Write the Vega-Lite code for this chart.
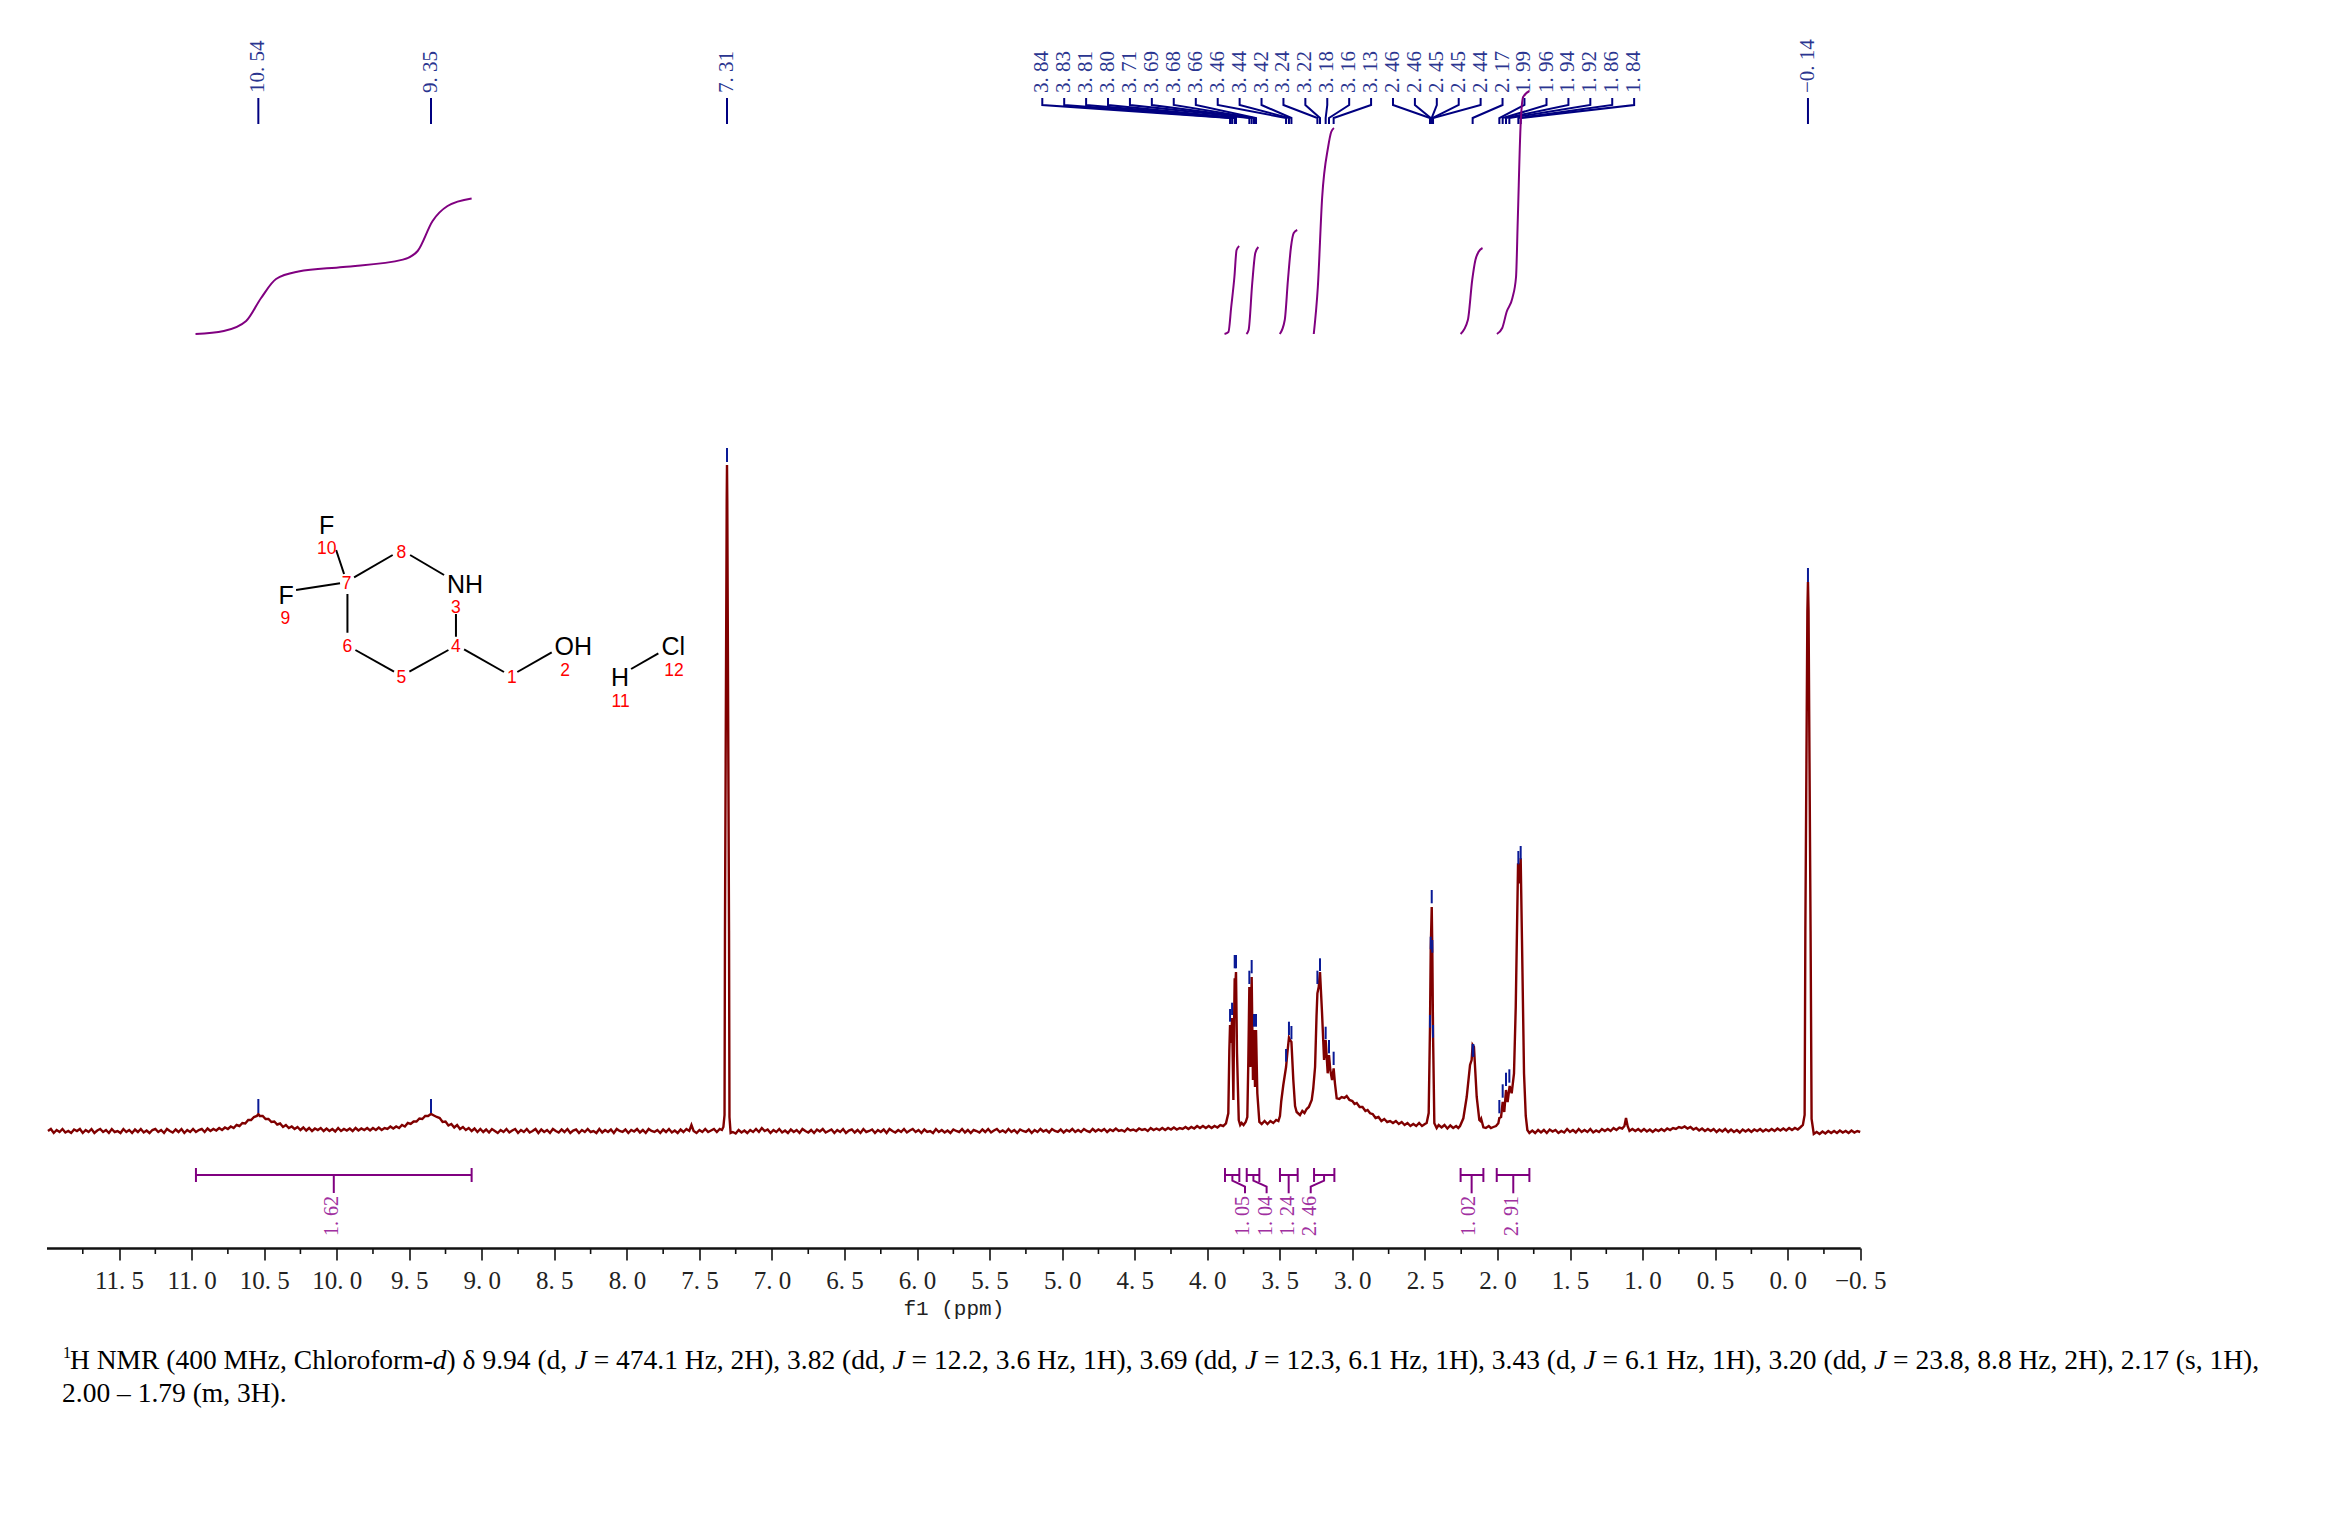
{"$schema":"https://vega.github.io/schema/vega-lite/v6.json","width":1813.7,"height":1248,"autosize":"none","padding":{"left":46.5,"top":0,"right":478.8,"bottom":280},"background":"white","config":{"view":{"stroke":null}},
"encoding":{"x":{"field":"p","type":"quantitative","scale":{"domain":[12,-0.5],"nice":false,"zero":false},"axis":{"values":[11.5,11,10.5,10,9.5,9,8.5,8,7.5,7,6.5,6,5.5,5,4.5,4,3.5,3,2.5,2,1.5,1,0.5,0,-0.5],"grid":false,"labelExpr":"replace(format(datum.value,'.1f'),'.','. ')","labelFont":"Liberation Serif","labelFontSize":25,"labelColor":"#222222","labelPadding":8,"labelOverlap":false,"labelFlush":false,"tickSize":12,"tickWidth":1.6,"tickColor":"#111111","domainColor":"#111111","domainWidth":2.4,"title":"f1 (ppm)","titleFont":"Liberation Mono","titleFontSize":21,"titleFontWeight":"normal","titleColor":"#222222","titlePadding":4}},"y":{"field":"h","type":"quantitative","scale":{"domain":[-117,1131],"nice":false,"zero":false},"axis":null}},
"layer":[
{"data":{"values":[{"p":11.75,"h":-117,"h2":-123},{"p":11.25,"h":-117,"h2":-123},{"p":10.75,"h":-117,"h2":-123},{"p":10.25,"h":-117,"h2":-123},{"p":9.75,"h":-117,"h2":-123},{"p":9.25,"h":-117,"h2":-123},{"p":8.75,"h":-117,"h2":-123},{"p":8.25,"h":-117,"h2":-123},{"p":7.75,"h":-117,"h2":-123},{"p":7.25,"h":-117,"h2":-123},{"p":6.75,"h":-117,"h2":-123},{"p":6.25,"h":-117,"h2":-123},{"p":5.75,"h":-117,"h2":-123},{"p":5.25,"h":-117,"h2":-123},{"p":4.75,"h":-117,"h2":-123},{"p":4.25,"h":-117,"h2":-123},{"p":3.75,"h":-117,"h2":-123},{"p":3.25,"h":-117,"h2":-123},{"p":2.75,"h":-117,"h2":-123},{"p":2.25,"h":-117,"h2":-123},{"p":1.75,"h":-117,"h2":-123},{"p":1.25,"h":-117,"h2":-123},{"p":0.75,"h":-117,"h2":-123},{"p":0.25,"h":-117,"h2":-123},{"p":-0.25,"h":-117,"h2":-123}]},"mark":{"type":"rule","color":"#111111","strokeWidth":1.6},"encoding":{"y2":{"field":"h2"}}},
{"data":{"values":[{"p":11.99,"h":0},{"p":11.97,"h":2},{"p":11.95,"h":-2},{"p":11.93,"h":1},{"p":11.91,"h":-1},{"p":11.89,"h":2},{"p":11.87,"h":-1.5},{"p":11.85,"h":0},{"p":11.83,"h":-2},{"p":11.81,"h":1.5},{"p":11.79,"h":0},{"p":11.77,"h":2},{"p":11.75,"h":-2},{"p":11.73,"h":1},{"p":11.71,"h":-1},{"p":11.69,"h":2},{"p":11.67,"h":-2},{"p":11.65,"h":0.5},{"p":11.63,"h":2},{"p":11.61,"h":-1},{"p":11.59,"h":1},{"p":11.57,"h":-2},{"p":11.55,"h":2},{"p":11.53,"h":-1},{"p":11.51,"h":0},{"p":11.49,"h":-2},{"p":11.47,"h":2},{"p":11.45,"h":-1},{"p":11.43,"h":1},{"p":11.41,"h":-2},{"p":11.39,"h":1.5},{"p":11.37,"h":-1},{"p":11.35,"h":2},{"p":11.33,"h":-1.5},{"p":11.31,"h":0.5},{"p":11.29,"h":-2},{"p":11.27,"h":1},{"p":11.25,"h":2},{"p":11.23,"h":-1},{"p":11.21,"h":1},{"p":11.19,"h":-2},{"p":11.17,"h":2},{"p":11.15,"h":0},{"p":11.13,"h":-1.5},{"p":11.11,"h":1.5},{"p":11.09,"h":-1},{"p":11.07,"h":2},{"p":11.05,"h":-2},{"p":11.03,"h":1},{"p":11.01,"h":-1},{"p":10.99,"h":2},{"p":10.97,"h":-1},{"p":10.95,"h":1},{"p":10.93,"h":2},{"p":10.91,"h":-1},{"p":10.89,"h":2.5},{"p":10.87,"h":0},{"p":10.85,"h":2},{"p":10.83,"h":0.5},{"p":10.81,"h":3},{"p":10.79,"h":1},{"p":10.77,"h":3.5},{"p":10.75,"h":2},{"p":10.73,"h":4.5},{"p":10.71,"h":3},{"p":10.69,"h":6},{"p":10.67,"h":5},{"p":10.65,"h":8},{"p":10.63,"h":7.5},{"p":10.61,"h":11},{"p":10.59,"h":11},{"p":10.57,"h":14},{"p":10.55,"h":15},{"p":10.54,"h":17},{"p":10.53,"h":15},{"p":10.51,"h":15},{"p":10.49,"h":12},{"p":10.47,"h":12},{"p":10.45,"h":9},{"p":10.43,"h":9.5},{"p":10.41,"h":6.5},{"p":10.39,"h":7.5},{"p":10.37,"h":4},{"p":10.35,"h":6},{"p":10.33,"h":3},{"p":10.31,"h":4.5},{"p":10.29,"h":2},{"p":10.27,"h":4},{"p":10.25,"h":1},{"p":10.23,"h":3.5},{"p":10.21,"h":0.5},{"p":10.19,"h":3},{"p":10.17,"h":0},{"p":10.15,"h":2.5},{"p":10.13,"h":1},{"p":10.11,"h":3},{"p":10.09,"h":0},{"p":10.07,"h":2.5},{"p":10.05,"h":0},{"p":10.03,"h":2},{"p":10.01,"h":-0.5},{"p":9.99,"h":3},{"p":9.97,"h":0},{"p":9.95,"h":2},{"p":9.93,"h":0.5},{"p":9.91,"h":2.5},{"p":9.89,"h":0},{"p":9.87,"h":3},{"p":9.85,"h":0.5},{"p":9.83,"h":2.5},{"p":9.81,"h":1},{"p":9.79,"h":3},{"p":9.77,"h":0.5},{"p":9.75,"h":3},{"p":9.73,"h":1},{"p":9.71,"h":3.5},{"p":9.69,"h":1},{"p":9.67,"h":3},{"p":9.65,"h":2},{"p":9.63,"h":4.5},{"p":9.61,"h":2.5},{"p":9.59,"h":4.5},{"p":9.57,"h":3},{"p":9.55,"h":6},{"p":9.53,"h":4.5},{"p":9.51,"h":8},{"p":9.49,"h":7},{"p":9.47,"h":9.5},{"p":9.45,"h":9.5},{"p":9.43,"h":12.5},{"p":9.41,"h":12},{"p":9.39,"h":15},{"p":9.37,"h":15},{"p":9.35,"h":17},{"p":9.33,"h":15.5},{"p":9.31,"h":14},{"p":9.29,"h":13},{"p":9.27,"h":9},{"p":9.25,"h":9.5},{"p":9.23,"h":5.5},{"p":9.21,"h":7},{"p":9.19,"h":3.5},{"p":9.17,"h":6},{"p":9.15,"h":2},{"p":9.13,"h":4},{"p":9.11,"h":1},{"p":9.09,"h":3},{"p":9.07,"h":0},{"p":9.05,"h":2.5},{"p":9.03,"h":-1},{"p":9.01,"h":2},{"p":8.99,"h":-1},{"p":8.97,"h":1.5},{"p":8.95,"h":-1.5},{"p":8.93,"h":2},{"p":8.91,"h":0},{"p":8.89,"h":-2},{"p":8.87,"h":1},{"p":8.85,"h":-1},{"p":8.83,"h":2},{"p":8.81,"h":-1.5},{"p":8.79,"h":0.5},{"p":8.77,"h":2},{"p":8.75,"h":-2},{"p":8.73,"h":1},{"p":8.71,"h":-1},{"p":8.69,"h":2},{"p":8.67,"h":-1.5},{"p":8.65,"h":0},{"p":8.63,"h":2},{"p":8.61,"h":-2},{"p":8.59,"h":1.5},{"p":8.57,"h":-1},{"p":8.55,"h":1},{"p":8.53,"h":-2},{"p":8.51,"h":2},{"p":8.49,"h":0},{"p":8.47,"h":-1.5},{"p":8.45,"h":1.5},{"p":8.43,"h":-1},{"p":8.41,"h":2},{"p":8.39,"h":-2},{"p":8.37,"h":0.5},{"p":8.35,"h":1.5},{"p":8.33,"h":-2},{"p":8.31,"h":1},{"p":8.29,"h":-1},{"p":8.27,"h":2},{"p":8.25,"h":-1},{"p":8.23,"h":0},{"p":8.21,"h":-2},{"p":8.19,"h":2},{"p":8.17,"h":-1.5},{"p":8.15,"h":1},{"p":8.13,"h":-1},{"p":8.11,"h":1.5},{"p":8.09,"h":-2},{"p":8.07,"h":2},{"p":8.05,"h":0},{"p":8.03,"h":-1},{"p":8.01,"h":1.5},{"p":7.99,"h":-2},{"p":7.97,"h":1},{"p":7.95,"h":-0.5},{"p":7.93,"h":2},{"p":7.91,"h":-1.5},{"p":7.89,"h":1},{"p":7.87,"h":-2},{"p":7.85,"h":2},{"p":7.83,"h":0},{"p":7.81,"h":-1},{"p":7.79,"h":1},{"p":7.77,"h":-2},{"p":7.75,"h":1.5},{"p":7.73,"h":-1},{"p":7.71,"h":2},{"p":7.69,"h":-1.5},{"p":7.67,"h":0.5},{"p":7.65,"h":-2},{"p":7.63,"h":1.5},{"p":7.61,"h":-1},{"p":7.59,"h":2},{"p":7.57,"h":0},{"p":7.555,"h":6},{"p":7.54,"h":0},{"p":7.52,"h":-2},{"p":7.5,"h":1},{"p":7.48,"h":-1},{"p":7.46,"h":2},{"p":7.44,"h":-1},{"p":7.42,"h":0.5},{"p":7.4,"h":2},{"p":7.38,"h":-1},{"p":7.36,"h":2},{"p":7.345,"h":1},{"p":7.335,"h":4},{"p":7.327,"h":16},{"p":7.324,"h":200},{"p":7.312,"h":630},{"p":7.31,"h":666},{"p":7.308,"h":630},{"p":7.296,"h":200},{"p":7.293,"h":14},{"p":7.285,"h":-2},{"p":7.27,"h":-1},{"p":7.25,"h":-2.5},{"p":7.23,"h":1},{"p":7.21,"h":-1.5},{"p":7.19,"h":0.5},{"p":7.17,"h":-2},{"p":7.15,"h":1},{"p":7.13,"h":-1},{"p":7.11,"h":2},{"p":7.09,"h":-1},{"p":7.07,"h":3},{"p":7.05,"h":0},{"p":7.03,"h":1.5},{"p":7.01,"h":-2},{"p":6.99,"h":1},{"p":6.97,"h":-1},{"p":6.95,"h":2},{"p":6.93,"h":-1.5},{"p":6.91,"h":0.5},{"p":6.89,"h":-2},{"p":6.87,"h":1.5},{"p":6.85,"h":-1},{"p":6.83,"h":1},{"p":6.81,"h":-2},{"p":6.79,"h":2},{"p":6.77,"h":0},{"p":6.75,"h":-1.5},{"p":6.73,"h":1},{"p":6.71,"h":-2},{"p":6.69,"h":1.5},{"p":6.67,"h":-0.5},{"p":6.65,"h":2},{"p":6.63,"h":-1.5},{"p":6.61,"h":0},{"p":6.59,"h":1.5},{"p":6.57,"h":-2},{"p":6.55,"h":1},{"p":6.53,"h":-1},{"p":6.51,"h":2},{"p":6.49,"h":-2},{"p":6.47,"h":0.5},{"p":6.45,"h":1.5},{"p":6.43,"h":-1.5},{"p":6.41,"h":1},{"p":6.39,"h":-2},{"p":6.37,"h":2},{"p":6.35,"h":-1},{"p":6.33,"h":0},{"p":6.31,"h":1.5},{"p":6.29,"h":-2},{"p":6.27,"h":1},{"p":6.25,"h":-1},{"p":6.23,"h":1.5},{"p":6.21,"h":-2},{"p":6.19,"h":2},{"p":6.17,"h":0},{"p":6.15,"h":-1.5},{"p":6.13,"h":1},{"p":6.11,"h":-1},{"p":6.09,"h":2},{"p":6.07,"h":-1.5},{"p":6.05,"h":0.5},{"p":6.03,"h":2},{"p":6.01,"h":-1},{"p":5.99,"h":1},{"p":5.97,"h":-2},{"p":5.95,"h":1.5},{"p":5.93,"h":-1},{"p":5.91,"h":0},{"p":5.89,"h":-2},{"p":5.87,"h":2},{"p":5.85,"h":-1},{"p":5.83,"h":1},{"p":5.81,"h":-1.5},{"p":5.79,"h":0.5},{"p":5.77,"h":-2},{"p":5.75,"h":1.5},{"p":5.73,"h":0},{"p":5.71,"h":-1},{"p":5.69,"h":2},{"p":5.67,"h":-1.5},{"p":5.65,"h":1},{"p":5.63,"h":-2},{"p":5.61,"h":1},{"p":5.59,"h":0},{"p":5.57,"h":-1.5},{"p":5.55,"h":1.5},{"p":5.53,"h":-1},{"p":5.51,"h":2},{"p":5.49,"h":-1.5},{"p":5.47,"h":0.5},{"p":5.45,"h":2},{"p":5.43,"h":-1},{"p":5.41,"h":0.5},{"p":5.39,"h":-1.5},{"p":5.37,"h":2},{"p":5.35,"h":-1},{"p":5.33,"h":1},{"p":5.31,"h":-2},{"p":5.29,"h":1.5},{"p":5.27,"h":0},{"p":5.25,"h":-1},{"p":5.23,"h":1.5},{"p":5.21,"h":-2},{"p":5.19,"h":1},{"p":5.17,"h":-1},{"p":5.15,"h":2},{"p":5.13,"h":-0.5},{"p":5.11,"h":1},{"p":5.09,"h":-1.5},{"p":5.07,"h":2},{"p":5.05,"h":0},{"p":5.03,"h":-1},{"p":5.01,"h":1.5},{"p":4.99,"h":-1.5},{"p":4.97,"h":1},{"p":4.95,"h":-0.5},{"p":4.93,"h":2},{"p":4.91,"h":-1},{"p":4.89,"h":1},{"p":4.87,"h":-1},{"p":4.85,"h":2},{"p":4.83,"h":0},{"p":4.81,"h":-1},{"p":4.79,"h":2},{"p":4.77,"h":-0.5},{"p":4.75,"h":1.5},{"p":4.73,"h":0},{"p":4.71,"h":2},{"p":4.69,"h":-1},{"p":4.67,"h":1.5},{"p":4.65,"h":0},{"p":4.63,"h":2.5},{"p":4.61,"h":0},{"p":4.59,"h":1},{"p":4.57,"h":-0.5},{"p":4.55,"h":2.5},{"p":4.53,"h":0.5},{"p":4.51,"h":1.5},{"p":4.49,"h":0},{"p":4.47,"h":2.5},{"p":4.45,"h":1},{"p":4.43,"h":2},{"p":4.41,"h":0},{"p":4.39,"h":3},{"p":4.37,"h":1},{"p":4.35,"h":2.5},{"p":4.33,"h":1},{"p":4.31,"h":3},{"p":4.29,"h":1},{"p":4.27,"h":3},{"p":4.25,"h":1.5},{"p":4.23,"h":3.5},{"p":4.21,"h":1.5},{"p":4.19,"h":3},{"p":4.17,"h":2},{"p":4.15,"h":4},{"p":4.13,"h":2},{"p":4.11,"h":4},{"p":4.09,"h":2.5},{"p":4.07,"h":5},{"p":4.05,"h":3},{"p":4.03,"h":5},{"p":4.01,"h":3},{"p":3.99,"h":5},{"p":3.97,"h":3},{"p":3.95,"h":5},{"p":3.93,"h":3.5},{"p":3.91,"h":6},{"p":3.89,"h":5},{"p":3.871,"h":7.7},{"p":3.855,"h":17.7},{"p":3.848,"h":80},{"p":3.843,"h":106},{"p":3.836,"h":88},{"p":3.829,"h":113},{"p":3.82,"h":31},{"p":3.815,"h":110},{"p":3.811,"h":152.7},{"p":3.806,"h":147.7},{"p":3.802,"h":159},{"p":3.795,"h":77.7},{"p":3.783,"h":11},{"p":3.773,"h":6},{"p":3.763,"h":8},{"p":3.75,"h":6},{"p":3.735,"h":9},{"p":3.724,"h":14},{"p":3.717,"h":70},{"p":3.71,"h":144},{"p":3.703,"h":64},{"p":3.694,"h":154},{"p":3.685,"h":51},{"p":3.678,"h":101},{"p":3.671,"h":44},{"p":3.664,"h":101},{"p":3.655,"h":37.7},{"p":3.641,"h":9},{"p":3.625,"h":7},{"p":3.605,"h":10},{"p":3.585,"h":7},{"p":3.565,"h":10},{"p":3.545,"h":8},{"p":3.525,"h":11},{"p":3.51,"h":10},{"p":3.499,"h":15},{"p":3.49,"h":30},{"p":3.476,"h":46},{"p":3.457,"h":64},{"p":3.448,"h":78},{"p":3.437,"h":93.3},{"p":3.43,"h":91},{"p":3.42,"h":89},{"p":3.407,"h":51},{"p":3.395,"h":25},{"p":3.384,"h":19},{"p":3.361,"h":16},{"p":3.345,"h":20},{"p":3.33,"h":18},{"p":3.315,"h":22},{"p":3.3,"h":24},{"p":3.28,"h":31},{"p":3.27,"h":42},{"p":3.257,"h":64},{"p":3.247,"h":115},{"p":3.241,"h":137.7},{"p":3.232,"h":144},{"p":3.223,"h":159},{"p":3.209,"h":118},{"p":3.195,"h":71},{"p":3.184,"h":91},{"p":3.17,"h":57.7},{"p":3.161,"h":76},{"p":3.152,"h":61},{"p":3.14,"h":51},{"p":3.129,"h":62.7},{"p":3.12,"h":47.7},{"p":3.108,"h":32.7},{"p":3.09,"h":32},{"p":3.074,"h":34},{"p":3.055,"h":33},{"p":3.039,"h":35},{"p":3.02,"h":31},{"p":3.0,"h":30},{"p":2.985,"h":27},{"p":2.97,"h":28},{"p":2.95,"h":24},{"p":2.93,"h":24},{"p":2.91,"h":20},{"p":2.895,"h":21},{"p":2.878,"h":17.7},{"p":2.86,"h":17},{"p":2.84,"h":13},{"p":2.82,"h":14},{"p":2.8,"h":10},{"p":2.78,"h":12},{"p":2.76,"h":9},{"p":2.74,"h":10},{"p":2.72,"h":8},{"p":2.7,"h":10},{"p":2.68,"h":7},{"p":2.66,"h":9},{"p":2.64,"h":6},{"p":2.62,"h":8},{"p":2.6,"h":5},{"p":2.58,"h":7},{"p":2.56,"h":5},{"p":2.54,"h":8},{"p":2.52,"h":5},{"p":2.5,"h":7},{"p":2.488,"h":8},{"p":2.474,"h":18},{"p":2.465,"h":104},{"p":2.46,"h":181},{"p":2.453,"h":224},{"p":2.449,"h":181},{"p":2.444,"h":97.7},{"p":2.435,"h":7.7},{"p":2.419,"h":3},{"p":2.405,"h":6},{"p":2.385,"h":3.5},{"p":2.365,"h":6},{"p":2.345,"h":2.5},{"p":2.325,"h":5.5},{"p":2.305,"h":3},{"p":2.285,"h":5},{"p":2.27,"h":3},{"p":2.258,"h":5},{"p":2.235,"h":12.7},{"p":2.212,"h":34},{"p":2.189,"h":66},{"p":2.178,"h":71},{"p":2.171,"h":86},{"p":2.162,"h":84},{"p":2.143,"h":34},{"p":2.125,"h":11},{"p":2.118,"h":10},{"p":2.112,"h":12},{"p":2.097,"h":3.7},{"p":2.08,"h":3},{"p":2.06,"h":5},{"p":2.045,"h":3},{"p":2.028,"h":4},{"p":2.01,"h":5},{"p":1.994,"h":7.7},{"p":1.987,"h":13},{"p":1.975,"h":14},{"p":1.964,"h":29},{"p":1.953,"h":19},{"p":1.941,"h":41},{"p":1.93,"h":29},{"p":1.916,"h":45},{"p":1.902,"h":37.7},{"p":1.886,"h":57.7},{"p":1.874,"h":124},{"p":1.858,"h":267.7},{"p":1.849,"h":247.7},{"p":1.84,"h":272.7},{"p":1.831,"h":191},{"p":1.817,"h":57.7},{"p":1.805,"h":15},{"p":1.794,"h":1},{"p":1.78,"h":-2},{"p":1.76,"h":0.5},{"p":1.74,"h":-2},{"p":1.72,"h":1},{"p":1.7,"h":-1.5},{"p":1.68,"h":1},{"p":1.66,"h":-2},{"p":1.64,"h":1.5},{"p":1.62,"h":-0.5},{"p":1.6,"h":1},{"p":1.58,"h":-2},{"p":1.56,"h":0},{"p":1.54,"h":-1.5},{"p":1.52,"h":2},{"p":1.5,"h":-1},{"p":1.48,"h":1},{"p":1.46,"h":-1.5},{"p":1.44,"h":2},{"p":1.42,"h":-1},{"p":1.4,"h":1},{"p":1.38,"h":-1},{"p":1.36,"h":2},{"p":1.34,"h":-1.5},{"p":1.32,"h":0.5},{"p":1.3,"h":-1},{"p":1.28,"h":2},{"p":1.26,"h":0},{"p":1.24,"h":2},{"p":1.22,"h":0},{"p":1.2,"h":3},{"p":1.18,"h":1},{"p":1.16,"h":3.5},{"p":1.14,"h":2.5},{"p":1.125,"h":5},{"p":1.114,"h":13},{"p":1.103,"h":5},{"p":1.09,"h":0},{"p":1.07,"h":2},{"p":1.05,"h":0},{"p":1.03,"h":2},{"p":1.01,"h":-0.5},{"p":0.99,"h":2},{"p":0.97,"h":-0.5},{"p":0.95,"h":1.5},{"p":0.93,"h":-1},{"p":0.91,"h":1.5},{"p":0.89,"h":0},{"p":0.87,"h":2},{"p":0.85,"h":0},{"p":0.83,"h":2.5},{"p":0.81,"h":1},{"p":0.79,"h":3},{"p":0.77,"h":2},{"p":0.75,"h":4},{"p":0.73,"h":3},{"p":0.71,"h":4.5},{"p":0.69,"h":2.5},{"p":0.67,"h":4},{"p":0.65,"h":1.5},{"p":0.63,"h":3},{"p":0.61,"h":0.5},{"p":0.59,"h":2.5},{"p":0.57,"h":0},{"p":0.55,"h":2},{"p":0.53,"h":0},{"p":0.51,"h":2},{"p":0.49,"h":-1},{"p":0.47,"h":1.5},{"p":0.45,"h":-0.5},{"p":0.43,"h":2},{"p":0.41,"h":-1},{"p":0.39,"h":1.5},{"p":0.37,"h":-1},{"p":0.35,"h":1},{"p":0.33,"h":-1.5},{"p":0.31,"h":1.5},{"p":0.29,"h":-0.5},{"p":0.27,"h":1.5},{"p":0.25,"h":-1},{"p":0.23,"h":1.5},{"p":0.21,"h":0},{"p":0.19,"h":2},{"p":0.17,"h":-0.5},{"p":0.15,"h":1.5},{"p":0.13,"h":0},{"p":0.11,"h":2},{"p":0.09,"h":0},{"p":0.07,"h":2.5},{"p":0.05,"h":0.5},{"p":0.03,"h":2.5},{"p":0.01,"h":0.5},{"p":-0.01,"h":3},{"p":-0.03,"h":1},{"p":-0.05,"h":3},{"p":-0.07,"h":1.5},{"p":-0.09,"h":4},{"p":-0.105,"h":6},{"p":-0.117,"h":16},{"p":-0.122,"h":200},{"p":-0.136,"h":520},{"p":-0.14,"h":549},{"p":-0.144,"h":520},{"p":-0.158,"h":200},{"p":-0.165,"h":12},{"p":-0.18,"h":-3},{"p":-0.2,"h":-1},{"p":-0.22,"h":-3},{"p":-0.24,"h":-0.5},{"p":-0.26,"h":-2.5},{"p":-0.28,"h":0},{"p":-0.3,"h":-2},{"p":-0.32,"h":0},{"p":-0.34,"h":-2},{"p":-0.36,"h":0.5},{"p":-0.38,"h":-1.5},{"p":-0.4,"h":0},{"p":-0.42,"h":-2},{"p":-0.44,"h":0.5},{"p":-0.46,"h":-1.5},{"p":-0.48,"h":0},{"p":-0.5,"h":-1}]},"mark":{"type":"line","color":"#800000","strokeWidth":2.4}},
{"data":{"values":[{"p":10.54,"h":18,"h2":32},{"p":9.35,"h":18,"h2":32},{"p":7.31,"h":669,"h2":683},{"p":-0.14,"h":549,"h2":563},{"p":3.843,"h":109.3,"h2":122},{"p":3.829,"h":116,"h2":128.3},{"p":3.811,"h":162.7,"h2":176},{"p":3.802,"h":162.7,"h2":176},{"p":3.71,"h":147,"h2":160.3},{"p":3.694,"h":157.7,"h2":171},{"p":3.678,"h":104.3,"h2":117},{"p":3.664,"h":104.3,"h2":117},{"p":3.457,"h":69.3,"h2":82},{"p":3.437,"h":96,"h2":109.3},{"p":3.42,"h":91.7,"h2":105},{"p":3.241,"h":147,"h2":160.3},{"p":3.223,"h":160,"h2":172.7},{"p":3.184,"h":91.7,"h2":104.3},{"p":3.161,"h":77.7,"h2":91},{"p":3.129,"h":66,"h2":79.3},{"p":2.465,"h":103.3,"h2":116},{"p":2.46,"h":181.7,"h2":194.3},{"p":2.453,"h":227.7,"h2":241},{"p":2.449,"h":178.3,"h2":191},{"p":2.444,"h":93.3,"h2":106},{"p":2.171,"h":74.3,"h2":87},{"p":2.166,"h":74.3,"h2":87},{"p":1.987,"h":17.7,"h2":31},{"p":1.964,"h":33.3,"h2":46.7},{"p":1.941,"h":45,"h2":58.3},{"p":1.918,"h":48.3,"h2":61.7},{"p":1.856,"h":266.7,"h2":280},{"p":1.84,"h":271.7,"h2":285}]},"mark":{"type":"rule","color":"#0a1a96","strokeWidth":2},"encoding":{"y2":{"field":"h2"}}},
{"data":{"values":[{"p":10.54,"h":1007,"h2":1033},{"p":9.35,"h":1007,"h2":1033},{"p":7.31,"h":1007,"h2":1033},{"p":-0.14,"h":1007,"h2":1033}]},"mark":{"type":"rule","color":"#000080","strokeWidth":2},"encoding":{"y2":{"field":"h2"}}},
{"data":{"values":[{"i":0,"o":0,"p":5.137,"h":1033},{"i":0,"o":1,"p":5.137,"h":1026},{"i":0,"o":2,"p":3.843,"h":1013},{"i":0,"o":3,"p":3.843,"h":1007},{"i":1,"o":0,"p":4.986,"h":1033},{"i":1,"o":1,"p":4.986,"h":1026},{"i":1,"o":2,"p":3.829,"h":1013},{"i":1,"o":3,"p":3.829,"h":1007},{"i":2,"o":0,"p":4.835,"h":1033},{"i":2,"o":1,"p":4.835,"h":1026},{"i":2,"o":2,"p":3.811,"h":1013},{"i":2,"o":3,"p":3.811,"h":1007},{"i":3,"o":0,"p":4.684,"h":1033},{"i":3,"o":1,"p":4.684,"h":1026},{"i":3,"o":2,"p":3.802,"h":1013},{"i":3,"o":3,"p":3.802,"h":1007},{"i":4,"o":0,"p":4.533,"h":1033},{"i":4,"o":1,"p":4.533,"h":1026},{"i":4,"o":2,"p":3.71,"h":1013},{"i":4,"o":3,"p":3.71,"h":1007},{"i":5,"o":0,"p":4.382,"h":1033},{"i":5,"o":1,"p":4.382,"h":1026},{"i":5,"o":2,"p":3.694,"h":1013},{"i":5,"o":3,"p":3.694,"h":1007},{"i":6,"o":0,"p":4.231,"h":1033},{"i":6,"o":1,"p":4.231,"h":1026},{"i":6,"o":2,"p":3.678,"h":1013},{"i":6,"o":3,"p":3.678,"h":1007},{"i":7,"o":0,"p":4.079,"h":1033},{"i":7,"o":1,"p":4.079,"h":1026},{"i":7,"o":2,"p":3.664,"h":1013},{"i":7,"o":3,"p":3.664,"h":1007},{"i":8,"o":0,"p":3.928,"h":1033},{"i":8,"o":1,"p":3.928,"h":1026},{"i":8,"o":2,"p":3.457,"h":1013},{"i":8,"o":3,"p":3.457,"h":1007},{"i":9,"o":0,"p":3.777,"h":1033},{"i":9,"o":1,"p":3.777,"h":1026},{"i":9,"o":2,"p":3.437,"h":1013},{"i":9,"o":3,"p":3.437,"h":1007},{"i":10,"o":0,"p":3.626,"h":1033},{"i":10,"o":1,"p":3.626,"h":1026},{"i":10,"o":2,"p":3.42,"h":1013},{"i":10,"o":3,"p":3.42,"h":1007},{"i":11,"o":0,"p":3.475,"h":1033},{"i":11,"o":1,"p":3.475,"h":1026},{"i":11,"o":2,"p":3.241,"h":1013},{"i":11,"o":3,"p":3.241,"h":1007},{"i":12,"o":0,"p":3.324,"h":1033},{"i":12,"o":1,"p":3.324,"h":1026},{"i":12,"o":2,"p":3.223,"h":1013},{"i":12,"o":3,"p":3.223,"h":1007},{"i":13,"o":0,"p":3.173,"h":1033},{"i":13,"o":1,"p":3.173,"h":1026},{"i":13,"o":2,"p":3.184,"h":1013},{"i":13,"o":3,"p":3.184,"h":1007},{"i":14,"o":0,"p":3.022,"h":1033},{"i":14,"o":1,"p":3.022,"h":1026},{"i":14,"o":2,"p":3.161,"h":1013},{"i":14,"o":3,"p":3.161,"h":1007},{"i":15,"o":0,"p":2.871,"h":1033},{"i":15,"o":1,"p":2.871,"h":1026},{"i":15,"o":2,"p":3.129,"h":1013},{"i":15,"o":3,"p":3.129,"h":1007},{"i":16,"o":0,"p":2.72,"h":1033},{"i":16,"o":1,"p":2.72,"h":1026},{"i":16,"o":2,"p":2.465,"h":1013},{"i":16,"o":3,"p":2.465,"h":1007},{"i":17,"o":0,"p":2.569,"h":1033},{"i":17,"o":1,"p":2.569,"h":1026},{"i":17,"o":2,"p":2.46,"h":1013},{"i":17,"o":3,"p":2.46,"h":1007},{"i":18,"o":0,"p":2.418,"h":1033},{"i":18,"o":1,"p":2.418,"h":1026},{"i":18,"o":2,"p":2.453,"h":1013},{"i":18,"o":3,"p":2.453,"h":1007},{"i":19,"o":0,"p":2.267,"h":1033},{"i":19,"o":1,"p":2.267,"h":1026},{"i":19,"o":2,"p":2.449,"h":1013},{"i":19,"o":3,"p":2.449,"h":1007},{"i":20,"o":0,"p":2.116,"h":1033},{"i":20,"o":1,"p":2.116,"h":1026},{"i":20,"o":2,"p":2.444,"h":1013},{"i":20,"o":3,"p":2.444,"h":1007},{"i":21,"o":0,"p":1.965,"h":1033},{"i":21,"o":1,"p":1.965,"h":1026},{"i":21,"o":2,"p":2.171,"h":1013},{"i":21,"o":3,"p":2.171,"h":1007},{"i":22,"o":0,"p":1.814,"h":1033},{"i":22,"o":1,"p":1.814,"h":1026},{"i":22,"o":2,"p":1.987,"h":1013},{"i":22,"o":3,"p":1.987,"h":1007},{"i":23,"o":0,"p":1.662,"h":1033},{"i":23,"o":1,"p":1.662,"h":1026},{"i":23,"o":2,"p":1.964,"h":1013},{"i":23,"o":3,"p":1.964,"h":1007},{"i":24,"o":0,"p":1.511,"h":1033},{"i":24,"o":1,"p":1.511,"h":1026},{"i":24,"o":2,"p":1.941,"h":1013},{"i":24,"o":3,"p":1.941,"h":1007},{"i":25,"o":0,"p":1.36,"h":1033},{"i":25,"o":1,"p":1.36,"h":1026},{"i":25,"o":2,"p":1.918,"h":1013},{"i":25,"o":3,"p":1.918,"h":1007},{"i":26,"o":0,"p":1.209,"h":1033},{"i":26,"o":1,"p":1.209,"h":1026},{"i":26,"o":2,"p":1.856,"h":1013},{"i":26,"o":3,"p":1.856,"h":1007},{"i":27,"o":0,"p":1.058,"h":1033},{"i":27,"o":1,"p":1.058,"h":1026},{"i":27,"o":2,"p":1.84,"h":1013},{"i":27,"o":3,"p":1.84,"h":1007}]},"mark":{"type":"line","color":"#000080","strokeWidth":2},"encoding":{"detail":{"field":"i"},"order":{"field":"o"}}},
{"data":{"values":[{"t":"10. 54","p":10.54,"h":1038},{"t":"9. 35","p":9.35,"h":1038},{"t":"7. 31","p":7.31,"h":1038},{"t":"−0. 14","p":-0.14,"h":1038},{"t":"3. 84","p":5.137,"h":1038},{"t":"3. 83","p":4.986,"h":1038},{"t":"3. 81","p":4.835,"h":1038},{"t":"3. 80","p":4.684,"h":1038},{"t":"3. 71","p":4.533,"h":1038},{"t":"3. 69","p":4.382,"h":1038},{"t":"3. 68","p":4.231,"h":1038},{"t":"3. 66","p":4.079,"h":1038},{"t":"3. 46","p":3.928,"h":1038},{"t":"3. 44","p":3.777,"h":1038},{"t":"3. 42","p":3.626,"h":1038},{"t":"3. 24","p":3.475,"h":1038},{"t":"3. 22","p":3.324,"h":1038},{"t":"3. 18","p":3.173,"h":1038},{"t":"3. 16","p":3.022,"h":1038},{"t":"3. 13","p":2.871,"h":1038},{"t":"2. 46","p":2.72,"h":1038},{"t":"2. 46","p":2.569,"h":1038},{"t":"2. 45","p":2.418,"h":1038},{"t":"2. 45","p":2.267,"h":1038},{"t":"2. 44","p":2.116,"h":1038},{"t":"2. 17","p":1.965,"h":1038},{"t":"1. 99","p":1.814,"h":1038},{"t":"1. 96","p":1.662,"h":1038},{"t":"1. 94","p":1.511,"h":1038},{"t":"1. 92","p":1.36,"h":1038},{"t":"1. 86","p":1.209,"h":1038},{"t":"1. 84","p":1.058,"h":1038}]},"mark":{"type":"text","angle":270,"align":"left","baseline":"middle","font":"Liberation Serif","fontSize":21,"color":"#2a3590"},"encoding":{"text":{"field":"t"}}},
{"data":{"values":[{"i":0,"p":10.973,"h":797},{"i":0,"p":10.778,"h":800},{"i":0,"p":10.624,"h":810},{"i":0,"p":10.521,"h":833},{"i":0,"p":10.418,"h":852},{"i":0,"p":10.264,"h":859.5},{"i":0,"p":9.956,"h":864},{"i":0,"p":9.544,"h":871.4},{"i":0,"p":9.442,"h":880},{"i":0,"p":9.339,"h":910},{"i":0,"p":9.236,"h":925},{"i":0,"p":9.07,"h":932.6},{"i":1,"p":3.881,"h":797},{"i":1,"p":3.854,"h":799},{"i":1,"p":3.835,"h":824},{"i":1,"p":3.813,"h":854},{"i":1,"p":3.798,"h":881},{"i":1,"p":3.78,"h":885},{"i":2,"p":3.73,"h":797},{"i":2,"p":3.715,"h":801},{"i":2,"p":3.69,"h":848},{"i":2,"p":3.669,"h":878},{"i":2,"p":3.648,"h":884},{"i":3,"p":3.5,"h":797},{"i":3,"p":3.466,"h":811},{"i":3,"p":3.444,"h":851},{"i":3,"p":3.423,"h":884},{"i":3,"p":3.404,"h":898},{"i":3,"p":3.38,"h":901},{"i":4,"p":3.266,"h":797},{"i":4,"p":3.238,"h":844},{"i":4,"p":3.208,"h":934},{"i":4,"p":3.167,"h":984},{"i":4,"p":3.146,"h":999},{"i":4,"p":3.127,"h":1003},{"i":5,"p":2.254,"h":797},{"i":5,"p":2.204,"h":811},{"i":5,"p":2.174,"h":851},{"i":5,"p":2.152,"h":871},{"i":5,"p":2.131,"h":879},{"i":5,"p":2.103,"h":883},{"i":6,"p":2.004,"h":797},{"i":6,"p":1.967,"h":803},{"i":6,"p":1.937,"h":819},{"i":6,"p":1.897,"h":833},{"i":6,"p":1.872,"h":854},{"i":6,"p":1.86,"h":911},{"i":6,"p":1.841,"h":1004},{"i":6,"p":1.823,"h":1034},{"i":6,"p":1.78,"h":1040}]},"mark":{"type":"line","color":"#800080","strokeWidth":2,"interpolate":"monotone"},"encoding":{"detail":{"field":"i"}}},
{"data":{"values":[{"p":10.97,"p2":9.07,"h":-44},{"p":3.878,"p2":3.779,"h":-44},{"p":3.728,"p2":3.641,"h":-44},{"p":3.499,"p2":3.377,"h":-44},{"p":3.264,"p2":3.124,"h":-44},{"p":2.254,"p2":2.097,"h":-44},{"p":2.005,"p2":1.78,"h":-44}]},"mark":{"type":"rule","color":"#800080","strokeWidth":2},"encoding":{"x2":{"field":"p2"}}},
{"data":{"values":[{"p":10.97,"h":-37,"h2":-51},{"p":9.07,"h":-37,"h2":-51},{"p":3.878,"h":-37,"h2":-51},{"p":3.779,"h":-37,"h2":-51},{"p":3.728,"h":-37,"h2":-51},{"p":3.641,"h":-37,"h2":-51},{"p":3.499,"h":-37,"h2":-51},{"p":3.377,"h":-37,"h2":-51},{"p":3.264,"h":-37,"h2":-51},{"p":3.124,"h":-37,"h2":-51},{"p":2.254,"h":-37,"h2":-51},{"p":2.097,"h":-37,"h2":-51},{"p":2.005,"h":-37,"h2":-51},{"p":1.78,"h":-37,"h2":-51}]},"mark":{"type":"rule","color":"#800080","strokeWidth":2},"encoding":{"y2":{"field":"h2"}}},
{"data":{"values":[{"i":0,"o":0,"p":10.02,"h":-44},{"i":0,"o":1,"p":10.02,"h":-62},{"i":1,"o":0,"p":3.827,"h":-44},{"i":1,"o":1,"p":3.827,"h":-49.7},{"i":1,"o":2,"p":3.74,"h":-55.7},{"i":1,"o":3,"p":3.74,"h":-62.3},{"i":2,"o":0,"p":3.682,"h":-44},{"i":2,"o":1,"p":3.682,"h":-49.7},{"i":2,"o":2,"p":3.591,"h":-55.7},{"i":2,"o":3,"p":3.591,"h":-62.3},{"i":3,"o":0,"p":3.439,"h":-44},{"i":3,"o":1,"p":3.439,"h":-62.3},{"i":4,"o":0,"p":3.195,"h":-44},{"i":4,"o":1,"p":3.195,"h":-49.7},{"i":4,"o":2,"p":3.287,"h":-55.7},{"i":4,"o":3,"p":3.287,"h":-62.3},{"i":5,"o":0,"p":2.178,"h":-44},{"i":5,"o":1,"p":2.178,"h":-62.3},{"i":6,"o":0,"p":1.891,"h":-44},{"i":6,"o":1,"p":1.891,"h":-62.3}]},"mark":{"type":"line","color":"#800080","strokeWidth":2},"encoding":{"detail":{"field":"i"},"order":{"field":"o"}}},
{"data":{"values":[{"t":"1. 62","p":10.03,"h":-105},{"t":"1. 05","p":3.751,"h":-105},{"t":"1. 04","p":3.597,"h":-105},{"t":"1. 24","p":3.446,"h":-105},{"t":"2. 46","p":3.292,"h":-105},{"t":"1. 02","p":2.194,"h":-105},{"t":"2. 91","p":1.902,"h":-105}]},"mark":{"type":"text","angle":270,"align":"left","baseline":"middle","font":"Liberation Serif","fontSize":20,"color":"#a030a0"},"encoding":{"text":{"field":"t"}}},
{"data":{"values":[{"i":0,"p":10.004,"h":581},{"i":0,"p":9.949,"h":557},{"i":1,"p":10.28,"h":541},{"i":1,"p":9.977,"h":547.7},{"i":2,"p":9.88,"h":553.7},{"i":2,"p":9.614,"h":576},{"i":3,"p":9.494,"h":576},{"i":3,"p":9.26,"h":556},{"i":4,"p":9.926,"h":537},{"i":4,"p":9.9259,"h":498.3},{"i":5,"p":9.871,"h":481},{"i":5,"p":9.605,"h":459.3},{"i":6,"p":9.499,"h":459.3},{"i":6,"p":9.23,"h":481},{"i":7,"p":9.178,"h":517},{"i":7,"p":9.1779,"h":494.3},{"i":8,"p":9.122,"h":481.7},{"i":8,"p":8.847,"h":459},{"i":9,"p":8.755,"h":459},{"i":9,"p":8.518,"h":478.7},{"i":10,"p":7.971,"h":462},{"i":10,"p":7.783,"h":477.7}]},"mark":{"type":"line","color":"black","strokeWidth":2},"encoding":{"detail":{"field":"i"}}},
{"data":{"values":[{"t":"F","p":10.069,"h":605.3},{"t":"F","p":10.349,"h":535.3},{"t":"NH","p":9.115,"h":546},{"t":"OH","p":8.369,"h":484.3},{"t":"H","p":8.047,"h":452.7},{"t":"Cl","p":7.68,"h":484.3}]},"mark":{"type":"text","align":"center","baseline":"middle","font":"Liberation Sans","fontSize":25,"color":"black"},"encoding":{"text":{"field":"t"}}},
{"data":{"values":[{"t":"10","p":10.069,"h":581.7},{"t":"8","p":9.554,"h":578.3},{"t":"7","p":9.931,"h":547},{"t":"9","p":10.354,"h":512.3},{"t":"3","p":9.178,"h":523.3},{"t":"6","p":9.926,"h":484.3},{"t":"4","p":9.178,"h":484.3},{"t":"5","p":9.554,"h":453.3},{"t":"1","p":8.792,"h":453.3},{"t":"2","p":8.426,"h":460.3},{"t":"12","p":7.675,"h":460.3},{"t":"11","p":8.043,"h":429.3}]},"mark":{"type":"text","align":"center","baseline":"middle","font":"Liberation Sans","fontSize":17.5,"color":"#ff0000"},"encoding":{"text":{"field":"t"}}},
{"data":{"values":[{"t":"1","p":11.887,"h":-227}]},"mark":{"type":"text","align":"left","baseline":"alphabetic","font":"Liberation Serif","fontSize":16,"color":"black"},"encoding":{"text":{"field":"t"}}},
{"data":{"values":[{"t":"H NMR (400 MHz, Chloroform-","p":11.838,"h":-238},{"t":") δ 9.94 (d,","p":9.243,"h":-238},{"t":"= 474.1 Hz, 2H), 3.82 (dd,","p":8.229,"h":-238},{"t":"= 12.2, 3.6 Hz, 1H), 3.69 (dd,","p":6.038,"h":-238},{"t":"= 12.3, 6.1 Hz, 1H), 3.43 (d,","p":3.609,"h":-238},{"t":"= 6.1 Hz, 1H), 3.20 (dd,","p":1.276,"h":-238},{"t":"= 23.8, 8.8 Hz, 2H), 2.17 (s, 1H),","p":-0.726,"h":-238},{"t":"2.00 – 1.79 (m, 3H).","p":11.893,"h":-270.7}]},"mark":{"type":"text","align":"left","baseline":"alphabetic","font":"Liberation Serif","fontSize":27.5,"color":"black"},"encoding":{"text":{"field":"t"}}},
{"data":{"values":[{"t":"d","p":9.338,"h":-238},{"t":"J","p":8.36,"h":-238},{"t":"J","p":6.169,"h":-238},{"t":"J","p":3.74,"h":-238},{"t":"J","p":1.407,"h":-238},{"t":"J","p":-0.595,"h":-238}]},"mark":{"type":"text","align":"left","baseline":"alphabetic","font":"Liberation Serif","fontStyle":"italic","fontSize":27.5,"color":"black"},"encoding":{"text":{"field":"t"}}}
]}
